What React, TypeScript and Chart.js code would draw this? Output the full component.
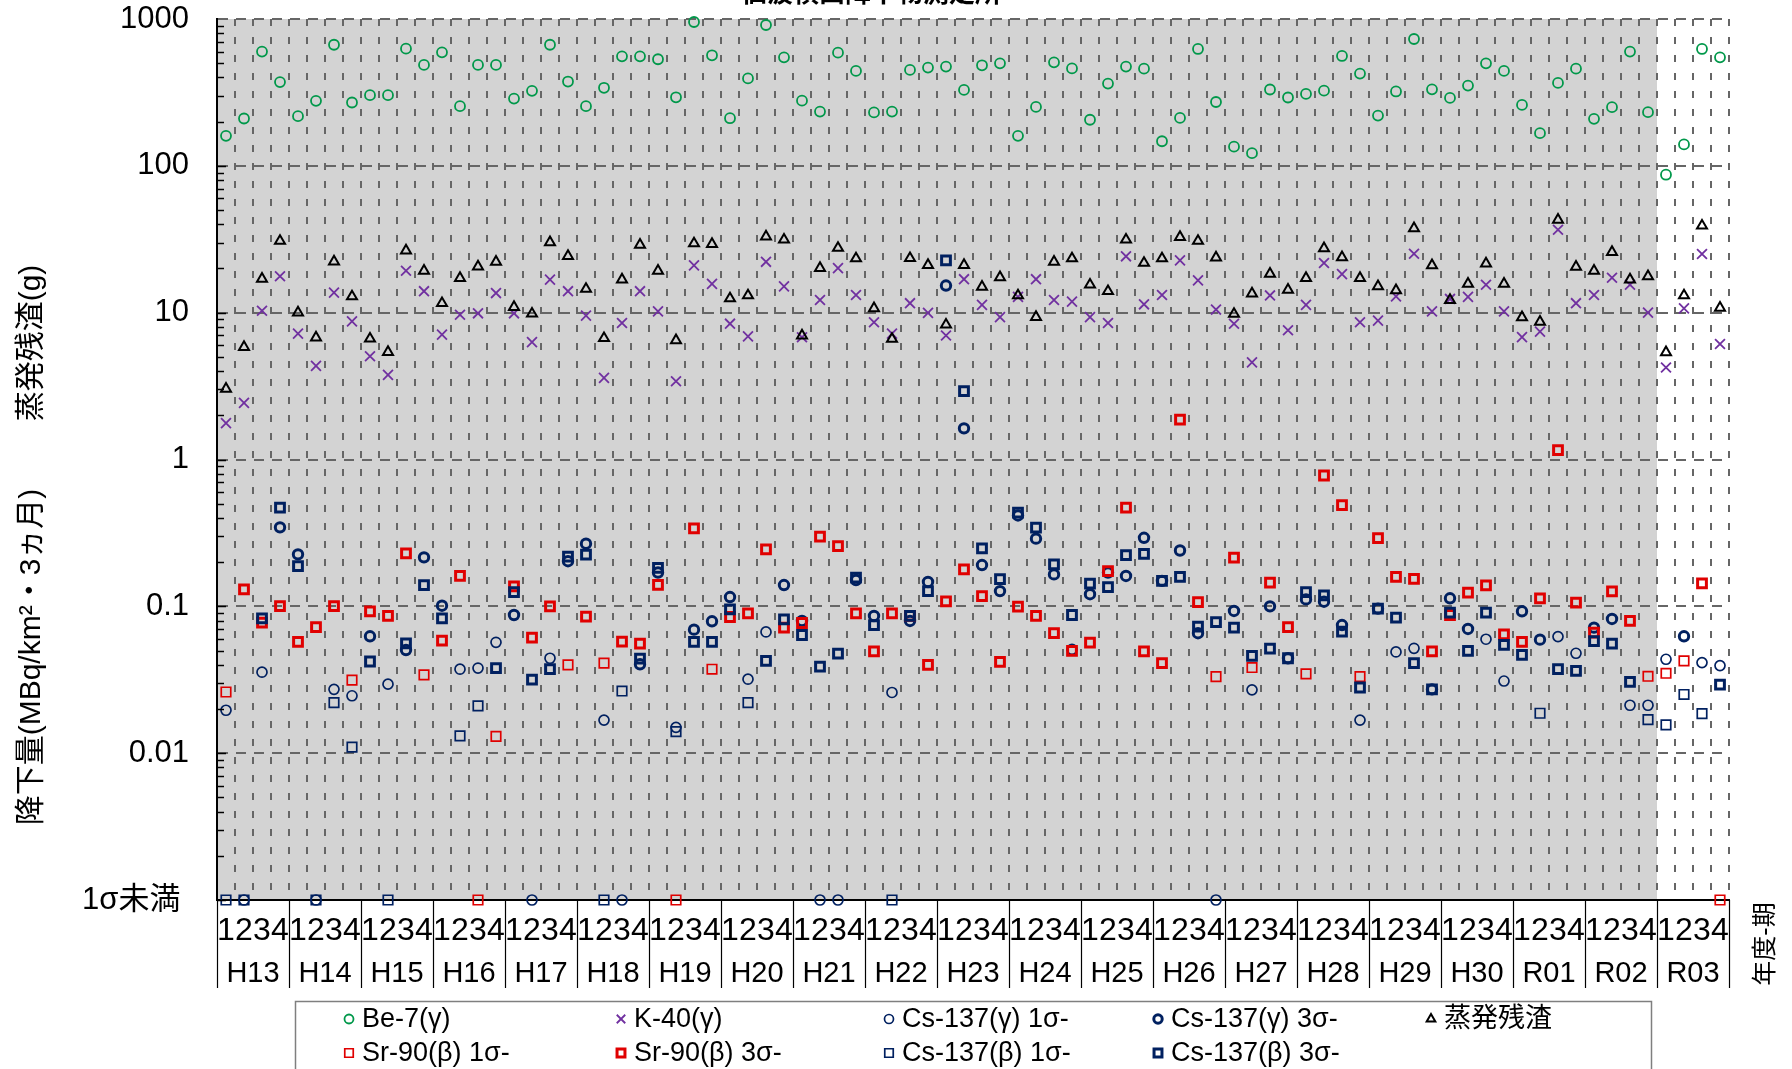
import React, { useEffect, useRef } from 'react';
import { Chart, registerables } from 'chart.js';

Chart.register(...registerables);

const N = null;

const years = ['H13', 'H14', 'H15', 'H16', 'H17', 'H18', 'H19', 'H20', 'H21', 'H22', 'H23', 'H24', 'H25', 'H26', 'H27', 'H28', 'H29', 'H30', 'R01', 'R02', 'R03'];
const quarterNames = ['1', '2', '3', '4'];
const yTickValues = [0.001, 0.01, 0.1, 1, 10, 100, 1000];
const belowLabel = '1σ未満 ';

// one row per fiscal year (4 quarters)
const be7 = [
  160, 210, 600, 372,
  218, 277, 668, 270,
  303, 303, 628, 487,
  593, 255, 487, 487,
  287, 324, 668, 375,
  255, 340, 557, 557,
  532, 293, 954, 566,
  211, 394, 910, 548,
  278, 234, 590, 443,
  231, 234, 450, 467,
  474, 329, 484, 499,
  160, 252, 507, 461,
  206, 363, 474, 459,
  147, 212, 625, 272,
  135, 122, 331, 292,
  309, 325, 560, 425,
  220, 321, 731, 332,
  290, 352, 499, 443,
  260, 167, 367, 459,
  209, 251, 600, 232,
  87, 140, 625, 548,
];

const k40 = [
  1.77, 2.43, 10.3, 17.7,
  7.2, 4.34, 13.7, 8.73,
  5.05, 3.77, 19.3, 14.0,
  7.08, 9.68, 9.9, 13.6,
  9.9, 6.3, 16.8, 14.0,
  9.55, 3.6, 8.5, 14.0,
  10.2, 3.41, 21.0, 15.7,
  8.41, 6.9, 22.2, 15.1,
  6.8, 12.2, 20.1, 13.2,
  8.6, 7.2, 11.6, 9.96,
  6.99, 16.9, 11.3, 9.33,
  12.8, 16.9, 12.2, 11.9,
  9.33, 8.5, 24.2, 11.4,
  13.2, 22.7, 16.6, 10.5,
  8.4, 4.59, 13.1, 7.59,
  11.3, 21.8, 18.3, 8.6,
  8.83, 12.9, 25.2, 10.2,
  12.4, 12.8, 15.5, 10.2,
  6.82, 7.43, 36.7, 11.6,
  13.2, 17.3, 15.5, 10.0,
  4.23, 10.7, 25.1, 6.12,
];

const residue = [
  3.03, 5.83, 17.0, 30.8,
  10.0, 6.76, 22.3, 12.9,
  6.65, 5.39, 26.5, 19.3,
  11.6, 17.2, 20.6, 22.2,
  10.9, 9.84, 30.1, 24.3,
  14.5, 6.7, 16.8, 29.0,
  19.3, 6.49, 29.6, 29.3,
  12.5, 13.1, 33.0, 31.4,
  6.99, 20.1, 27.6, 23.4,
  10.7, 6.62, 23.5, 21.1,
  8.28, 21.1, 15.0, 17.4,
  13.1, 9.33, 22.2, 23.4,
  15.5, 14.0, 31.4, 21.8,
  23.4, 32.7, 30.8, 23.7,
  9.8, 13.5, 18.4, 14.3,
  17.2, 27.4, 23.8, 17.2,
  15.1, 14.2, 37.5, 21.0,
  12.2, 15.7, 21.6, 15.7,
  9.3, 8.66, 42.9, 20.5,
  19.3, 25.9, 16.8, 17.7,
  5.37, 13.1, 39.1, 10.8,
];

// 0.001 = below 1σ (plotted on the "1σ未満" line)
const csG1 = [
  0.0196, 0.001, 0.0356, N,
  N, 0.001, 0.0272, 0.0246,
  N, 0.0295, N, N,
  N, 0.0373, 0.038, 0.0569,
  N, 0.001, 0.0443, N,
  N, 0.0168, 0.001, N,
  N, 0.015, N, N,
  N, 0.0319, 0.0669, N,
  N, 0.001, 0.001, N,
  N, 0.0259, N, N,
  N, N, N, N,
  N, N, N, 0.051,
  N, N, N, N,
  N, N, N, 0.001,
  N, 0.027, N, N,
  N, N, N, 0.0168,
  N, 0.0489, 0.0518, N,
  N, N, 0.0597, 0.031,
  N, N, 0.0622, 0.0479,
  N, N, 0.0212, 0.0212,
  0.0436, N, 0.0414, 0.0395,
];

const csG3 = [
  N, N, N, 0.345,
  0.226, N, N, N,
  0.0625, N, 0.0504, 0.2155,
  0.101, N, N, N,
  0.0873, N, N, 0.203,
  0.267, N, N, 0.0403,
  0.17, N, 0.0694, 0.0791,
  0.1157, N, N, 0.1397,
  0.0795, N, N, 0.151,
  0.086, N, 0.0795, 0.1465,
  15.3, 1.63, 0.191, 0.127,
  0.416, 0.289, 0.165, N,
  0.121, 0.17, 0.161, 0.293,
  0.149, 0.24, 0.0656, N,
  0.093, N, 0.1, 0.0443,
  0.1115, 0.1075, 0.0746, N,
  0.0964, N, N, 0.0272,
  0.1134, 0.0701, N, N,
  0.0925, 0.0593, N, N,
  0.0716, 0.082, N, N,
  N, 0.0625, N, N,
];

const sr1 = [
  0.0261, N, N, N,
  N, N, N, 0.0314,
  N, N, N, 0.0341,
  N, N, 0.001, 0.013,
  N, N, N, 0.0399,
  N, 0.041, N, N,
  N, 0.001, N, 0.0373,
  N, N, N, N,
  N, N, N, N,
  N, N, N, N,
  N, N, N, N,
  N, N, N, N,
  N, N, N, N,
  N, N, N, 0.0332,
  N, 0.0383, N, N,
  0.0347, N, N, 0.0332,
  N, N, N, N,
  N, N, N, N,
  N, N, N, N,
  N, N, N, 0.0334,
  0.035, 0.0425, N, 0.001,
];

const sr3 = [
  N, 0.1305, 0.0774, 0.1005,
  0.0572, 0.0723, 0.1005, N,
  0.0925, 0.086, 0.2294, N,
  0.0584, 0.161, N, N,
  0.1368, 0.0612, 0.1, N,
  0.0851, N, 0.0575, 0.0557,
  0.14, N, 0.339, N,
  0.0846, 0.0896, 0.244, 0.0716,
  0.077, 0.298, 0.257, 0.0896,
  0.0494, 0.0896, 0.086, 0.0399,
  0.108, 0.1786, 0.1175, 0.0418,
  0.0994, 0.086, 0.0656, 0.0497,
  0.0566, 0.174, 0.471, 0.0494,
  0.041, 1.87, 0.107, N,
  0.215, N, 0.145, 0.0723,
  N, 0.778, 0.489, N,
  0.2916, 0.159, 0.154, 0.0494,
  0.0873, 0.1238, 0.139, 0.0645,
  0.0572, 0.1134, 1.157, 0.106,
  0.0662, 0.1265, 0.0795, N,
  N, N, 0.1433, N,
];

const csB1 = [
  0.001, 0.001, N, N,
  N, 0.001, 0.0221, 0.011,
  N, 0.001, N, N,
  N, 0.0131, 0.021, N,
  N, N, N, N,
  N, 0.001, 0.0265, N,
  N, 0.014, N, N,
  N, 0.0221, N, N,
  N, N, N, N,
  N, 0.001, N, N,
  N, N, N, N,
  N, N, N, N,
  N, N, N, N,
  N, N, N, N,
  N, N, N, N,
  N, N, N, N,
  N, N, N, N,
  N, N, N, N,
  N, 0.0187, N, N,
  N, N, N, 0.0169,
  0.0156, 0.0251, 0.0186, N,
];

const csB3 = [
  N, N, 0.0829, 0.471,
  0.188, N, N, N,
  0.0421, N, 0.056, 0.1397,
  0.0829, N, N, 0.038,
  0.125, 0.0317, 0.0373, 0.218,
  0.2246, N, N, 0.0441,
  0.183, N, 0.0572, 0.0572,
  0.0954, N, 0.0425, 0.0816,
  0.0638, 0.0389, 0.0476, 0.157,
  0.0746, N, 0.086, 0.127,
  22.7, 2.92, 0.248, 0.153,
  0.434, 0.343, 0.193, 0.0873,
  0.143, 0.135, 0.2236, 0.228,
  0.149, 0.159, 0.0727, 0.0782,
  0.0716, 0.0459, 0.0515, 0.0443,
  0.125, 0.1186, 0.0673, 0.028,
  0.0964, 0.0838, 0.041, 0.0272,
  0.0906, 0.0497, 0.0906, 0.0546,
  0.0467, N, 0.0373, 0.0364,
  0.058, 0.0557, 0.0306, N,
  N, N, N, 0.0293,
];

const quarterLabels = years.flatMap(() => quarterNames);

const GREEN = '#00984a';
const PURPLE = '#7030a0';
const NAVY = '#002060';
const RED = '#e00000';
const BLACK = '#000000';
const LATIN = "'Liberation Sans', Arial, 'Noto Sans CJK JP', sans-serif";

type Mk = { label: string; data: (number | null)[]; style: string; color: string; r: number; w: number; order: number; lr: number; col: number; row: number };

const series: Mk[] = [
  { label: 'Be-7(γ)', data: be7, style: 'circle', color: GREEN, r: 5, w: 1.8, order: 9, lr: 4.5, col: 0, row: 0 },
  { label: 'K-40(γ)', data: k40, style: 'crossRot', color: PURPLE, r: 7, w: 1.8, order: 8, lr: 6, col: 1, row: 0 },
  { label: 'Cs-137(γ) 1σ-', data: csG1, style: 'circle', color: NAVY, r: 5, w: 1.7, order: 7, lr: 4.5, col: 2, row: 0 },
  { label: 'Cs-137(γ) 3σ-', data: csG3, style: 'circle', color: NAVY, r: 4.7, w: 3, order: 6, lr: 4.2, col: 3, row: 0 },
  { label: '蒸発残渣', data: residue, style: 'triangle', color: BLACK, r: 5.8, w: 2, order: 5, lr: 5, col: 4, row: 0 },
  { label: 'Sr-90(β) 1σ-', data: sr1, style: 'rect', color: RED, r: 6.7, w: 1.7, order: 4, lr: 6, col: 0, row: 1 },
  { label: 'Sr-90(β) 3σ-', data: sr3, style: 'rect', color: RED, r: 6.2, w: 3, order: 3, lr: 5.6, col: 1, row: 1 },
  { label: 'Cs-137(β) 1σ-', data: csB1, style: 'rect', color: NAVY, r: 6.7, w: 1.7, order: 2, lr: 6, col: 2, row: 1 },
  { label: 'Cs-137(β) 3σ-', data: csB3, style: 'rect', color: NAVY, r: 6.2, w: 3, order: 1, lr: 5.6, col: 3, row: 1 },
];

const legendCols = [349, 621, 889, 1158, 1431];
const legendRows = [1019, 1053];

function drawMarker(ctx: CanvasRenderingContext2D, style: string, x: number, y: number, r: number, w: number, color: string) {
  ctx.save();
  ctx.strokeStyle = color;
  ctx.lineWidth = w;
  ctx.beginPath();
  if (style === 'circle') {
    ctx.arc(x, y, r, 0, Math.PI * 2);
  } else if (style === 'rect') {
    const s = r * Math.SQRT1_2;
    ctx.rect(x - s, y - s, 2 * s, 2 * s);
  } else if (style === 'triangle') {
    ctx.moveTo(x, y - r);
    ctx.lineTo(x + r * Math.sin(Math.PI * 2 / 3), y - r * Math.cos(Math.PI * 2 / 3));
    ctx.lineTo(x + r * Math.sin(Math.PI * 4 / 3), y - r * Math.cos(Math.PI * 4 / 3));
    ctx.closePath();
  } else {
    const s = r * Math.SQRT1_2;
    ctx.moveTo(x - s, y - s); ctx.lineTo(x + s, y + s);
    ctx.moveTo(x + s, y - s); ctx.lineTo(x - s, y + s);
  }
  ctx.stroke();
  ctx.restore();
}

const decorPlugin = {
  id: 'decor',
  beforeDraw(chart: any) {
    const { ctx, chartArea: a, scales } = chart;
    const x = scales.x;
    ctx.save();
    ctx.fillStyle = '#ffffff';
    ctx.fillRect(0, 0, chart.width, chart.height);
    const split = (x.getPixelForValue(79) + x.getPixelForValue(80)) / 2;
    ctx.fillStyle = '#d3d3d3';
    ctx.fillRect(a.left, a.top, split - a.left, a.bottom - a.top);
    ctx.restore();
  },
  afterDraw(chart: any) {
    const { ctx, chartArea: a, scales } = chart;
    const x = scales.x;
    const y = scales.y;
    ctx.save();
    // inside ticks on the value axis
    ctx.strokeStyle = BLACK;
    ctx.lineWidth = 1.5;
    for (let e = -3; e <= 2; e++) {
      for (let m = 1; m <= 9; m++) {
        const v = m * Math.pow(10, e);
        const py = Math.round(y.getPixelForValue(v)) + 0.5;
        ctx.beginPath();
        ctx.moveTo(a.left, py);
        ctx.lineTo(a.left + (m === 1 ? 9 : 7), py);
        ctx.stroke();
      }
    }
    // fiscal year separators and labels
    ctx.lineWidth = 1.2;
    ctx.strokeStyle = BLACK;
    const sepBottom = 988;
    for (let g = 0; g <= years.length; g++) {
      let px: number;
      if (g === 0) px = a.left;
      else if (g === years.length) px = a.right;
      else px = (x.getPixelForValue(4 * g - 1) + x.getPixelForValue(4 * g)) / 2;
      px = Math.round(px) + 0.5;
      ctx.beginPath();
      ctx.moveTo(px, a.bottom);
      ctx.lineTo(px, sepBottom);
      ctx.stroke();
    }
    ctx.fillStyle = BLACK;
    ctx.font = `29px ${LATIN}`;
    ctx.textAlign = 'center';
    ctx.textBaseline = 'middle';
    years.forEach((yr, g) => {
      const cx = (x.getPixelForValue(4 * g) + x.getPixelForValue(4 * g + 3)) / 2;
      ctx.fillText(yr, cx, 974);
    });
    // axis titles
    ctx.font = `30px ${LATIN}`;
    const vText = (t: string, cx: number, cy: number) => {
      ctx.save();
      ctx.translate(cx, cy);
      ctx.rotate(-Math.PI / 2);
      ctx.textAlign = 'center';
      ctx.textBaseline = 'middle';
      ctx.fillText(t, 0, 0);
      ctx.restore();
    };
    vText('蒸発残渣(g)', 32, 343);
    vText('降下量(MBq/km²・3ヵ月)', 32, 657);
    ctx.font = `25px ${LATIN}`;
    vText('年度-期', 1766, 944);
    // title (cut by the top edge)
    ctx.font = `bold 26px ${LATIN}`;
    ctx.textAlign = 'center';
    ctx.textBaseline = 'alphabetic';
    ctx.fillText('仙波横山降下物測定所', 871, 2);
    // legend
    ctx.strokeStyle = '#7f7f7f';
    ctx.lineWidth = 1.5;
    ctx.strokeRect(295.5, 1001.5, 1356, 80);
    ctx.font = `27px ${LATIN}`;
    ctx.textAlign = 'left';
    ctx.textBaseline = 'middle';
    chart.data.datasets.forEach((d: any, i: number) => {
      const s = series[i];
      const mx = legendCols[s.col];
      const my = legendRows[s.row];
      drawMarker(ctx, s.style === 'crossRot' ? 'cross' : s.style, mx, my, s.lr, s.w, s.color);
      ctx.fillStyle = BLACK;
      ctx.fillText(d.label, mx + 13, my + 1);
    });
    ctx.restore();
  },
};

export default function App() {
  const ref = useRef<HTMLCanvasElement>(null);
  useEffect(() => {
    document.body.style.margin = '0';
    document.body.style.overflow = 'hidden';
    Chart.defaults.font.family = LATIN;
    const chart = new Chart(ref.current as HTMLCanvasElement, {
      type: 'line',
      data: {
        labels: quarterLabels,
        datasets: series.map((s) => ({
          label: s.label,
          data: s.data,
          showLine: false,
          pointStyle: s.style as any,
          pointRadius: s.r,
          pointHoverRadius: s.r,
          pointBorderWidth: s.w,
          pointHoverBorderWidth: s.w,
          pointBorderColor: s.color,
          pointBackgroundColor: 'rgba(0,0,0,0)',
          borderColor: s.color,
          backgroundColor: 'rgba(0,0,0,0)',
          order: s.order,
          clip: false as any,
        })),
      },
      options: {
        responsive: false,
        animation: false,
        devicePixelRatio: 1,
        events: [],
        layout: { padding: { left: 0, right: 63, top: 19, bottom: 0 } },
        plugins: { legend: { display: false }, tooltip: { enabled: false }, title: { display: false } },
        scales: {
          x: {
            type: 'category',
            offset: true,
            grid: { offset: true, color: '#666666', lineWidth: 2, drawTicks: false },
            border: { display: true, color: BLACK, width: 2, dash: [7, 11] },
            ticks: { autoSkip: false, maxRotation: 0, minRotation: 0, color: BLACK, font: { size: 32 }, padding: 12 },
            afterFit: (s: any) => { s.height = 169; },
          },
          y: {
            type: 'logarithmic',
            min: 0.001,
            max: 1000,
            afterBuildTicks: (s: any) => { s.ticks = yTickValues.map((v) => ({ value: v, major: true })); },
            grid: {
              color: (c: any) => (c.tick && c.tick.value <= 0.0011 ? 'rgba(0,0,0,0)' : '#666666'),
              lineWidth: 2,
              drawTicks: true,
              tickLength: 28,
              tickColor: 'rgba(0,0,0,0)',
            },
            border: { display: true, color: BLACK, width: 2, dash: [10, 8] },
            ticks: {
              color: BLACK,
              font: { size: 31 },
              padding: 0,
              callback: (v: any) => (Number(v) <= 0.0011 ? belowLabel : String(Number(v))),
            },
            afterFit: (s: any) => { s.width = 217; },
          },
        },
      },
      plugins: [decorPlugin],
    } as any);
    return () => chart.destroy();
  }, []);
  return (
    <div style={{ width: 1792, height: 1069, position: 'relative' }}>
      <canvas ref={ref} width={1792} height={1069} style={{ display: 'block' }} />
    </div>
  );
}
